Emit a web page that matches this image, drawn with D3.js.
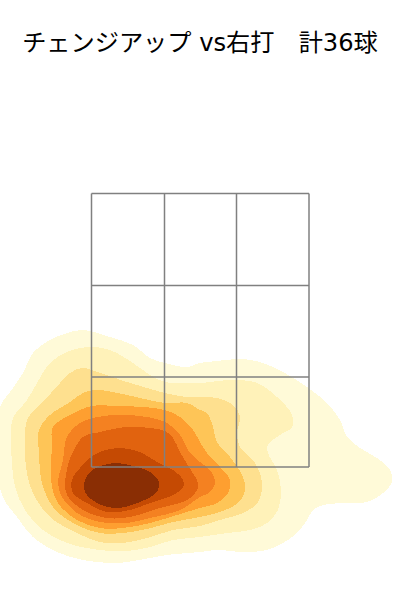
<!DOCTYPE html>
<html>
<head>
<meta charset="utf-8">
<style>
  html, body { margin: 0; background: #fff; }
  svg { display: block; }
  .title { font-family: "DejaVu Sans", "Noto Sans CJK JP", sans-serif; font-size: 24.2px; fill: #000; }
  .grid line { stroke: #808080; stroke-width: 1.5px; }
</style>
</head>
<body>
<div id="chart"></div>
<script src="https://d3js.org/d3.v7.min.js"></script>
<script>
var width = 400, height = 600;

var titleText = 'チェンジアップ vs右打\u3000計36球';

// zone edges: x from plate centre, y above bottom of the zone
var zoneX = [-108.5, -35.5, 36.5, 109];
var zoneY = [0, 90, 181.5, 273.5];

var levelColors = ['#fffad8', '#fff2b9', '#fee08f', '#fec557', '#fe9f30', '#f48121', '#e1630f', '#c54a03', '#8a2e04'];

// density bands, outermost first
var band1 = [[-117,137],[-90,130],[-67,122],[-50,109],[-35,104],[-13,100],[0,104],[17,106],[40,108],[60,105],[83,95],[107,80],[127,64],[140,47],[147,30],[160,19],[177,9],[190,-3],[192,-15],[183,-26],[167,-35],[147,-36],[123,-38],[113,-43],[107,-53],[97,-66],[83,-76],[67,-83],[43,-85],[17,-83],[0,-85],[-33,-88],[-50,-91],[-83,-96],[-117,-93],[-143,-85],[-167,-70],[-183,-50],[-197,-30],[-205,17],[-200,60],[-187,79],[-177,94],[-167,114],[-150,127],[-133,134]];
var band2 = [[-110,120],[-90,117],[-67,104],[-50,92],[-35,85],[-13,84],[0,84],[33,87],[57,84],[77,70],[92,52],[92,40],[80,32],[68,22],[68,14],[77,-3],[81,-23],[78,-43],[67,-56],[50,-63],[27,-66],[0,-70],[-27,-73],[-50,-80],[-73,-84],[-100,-83],[-133,-76],[-157,-63],[-175,-43],[-185,-20],[-188,4],[-189,34],[-187,49],[-173,67],[-163,84],[-150,104],[-133,115]];
var band3 = [[-118,99],[-100,94],[-73,85],[-53,79],[-35,74],[-13,70],[0,70],[17,69],[33,62],[40,50],[37,34],[40,20],[55,4],[62,-16],[58,-35],[43,-46],[20,-53],[0,-59],[-27,-63],[-53,-71],[-77,-76],[-100,-75],[-123,-66],[-150,-50],[-167,-26],[-174,0],[-175,34],[-172,49],[-157,65],[-140,84],[-130,94]];
var band4 = [[-105,77],[-87,75],[-60,69],[-35,64],[-13,64],[0,57],[7,54],[13,40],[17,25],[30,10],[43,-10],[45,-23],[38,-36],[20,-45],[0,-50],[-27,-55],[-53,-62],[-77,-66],[-100,-66],[-127,-56],[-147,-40],[-158,-16],[-161,14],[-161,37],[-150,52],[-130,65],[-117,74]];
var band5 = [[-108,61],[-83,61],[-57,60],[-35,57],[-20,50],[-7,37],[0,25],[7,14],[20,0],[30,-13],[28,-26],[17,-36],[0,-41],[-23,-48],[-50,-56],[-77,-61],[-100,-61],[-123,-53],[-142,-36],[-149,-13],[-148,20],[-147,40],[-130,52]];
var band6 = [[-103,50],[-80,52],[-53,50],[-33,44],[-20,32],[-10,14],[0,5],[10,-3],[15,-15],[10,-25],[0,-30],[-20,-43],[-50,-51],[-73,-56],[-100,-55],[-123,-46],[-138,-30],[-142,-16],[-137,7],[-133,30],[-120,44]];
var band7 = [[-100,35],[-73,40],[-50,39],[-35,36],[-27,29],[-20,15],[-11,0],[-2,-16],[-3,-23],[-13,-33],[-40,-41],[-70,-50],[-93,-51],[-117,-43],[-133,-28],[-135,-16],[-132,2],[-127,15],[-117,30]];
var band8 = [[-100,15],[-80,19],[-60,15],[-43,5],[-27,-3],[-17,-13],[-17,-20],[-27,-28],[-50,-36],[-70,-43],[-93,-45],[-113,-36],[-127,-26],[-128,-13],[-120,-1],[-110,9]];
var band9 = [[-83,4],[-67,1],[-50,-5],[-41,-15],[-43,-25],[-60,-35],[-83,-41],[-103,-36],[-115,-25],[-115,-13],[-108,-3],[-96,2]];

var bands = [band1, band2, band3, band4, band5, band6, band7, band8, band9];

var xScale = d3.scaleLinear().domain([-108.5, 109]).range([91.5, 309]);
var yScale = d3.scaleLinear().domain([0, 273.5]).range([467, 193.5]);

var svg = d3.select('#chart').append('svg')
  .attr('width', width)
  .attr('height', height);

var outline = d3.line()
  .x(function (d) { return xScale(d[0]); })
  .y(function (d) { return yScale(d[1]); })
  .curve(d3.curveCatmullRomClosed.alpha(0.5));

svg.append('g').selectAll('path')
  .data(bands)
  .join('path')
  .attr('d', outline)
  .attr('fill', function (d, i) { return levelColors[i]; })
  .attr('shape-rendering', 'crispEdges');

var grid = svg.append('g').attr('class', 'grid');

grid.selectAll('line.v')
  .data(zoneX)
  .join('line')
  .attr('class', 'v')
  .attr('x1', function (d) { return xScale(d); })
  .attr('x2', function (d) { return xScale(d); })
  .attr('y1', yScale(zoneY[0]))
  .attr('y2', yScale(zoneY[3]));

grid.selectAll('line.h')
  .data(zoneY)
  .join('line')
  .attr('class', 'h')
  .attr('y1', function (d) { return yScale(d); })
  .attr('y2', function (d) { return yScale(d); })
  .attr('x1', xScale(zoneX[0]))
  .attr('x2', xScale(zoneX[3]));

svg.append('text')
  .attr('class', 'title')
  .attr('x', 200)
  .attr('y', 51)
  .attr('text-anchor', 'middle')
  .text(titleText);
</script>
</body>
</html>
